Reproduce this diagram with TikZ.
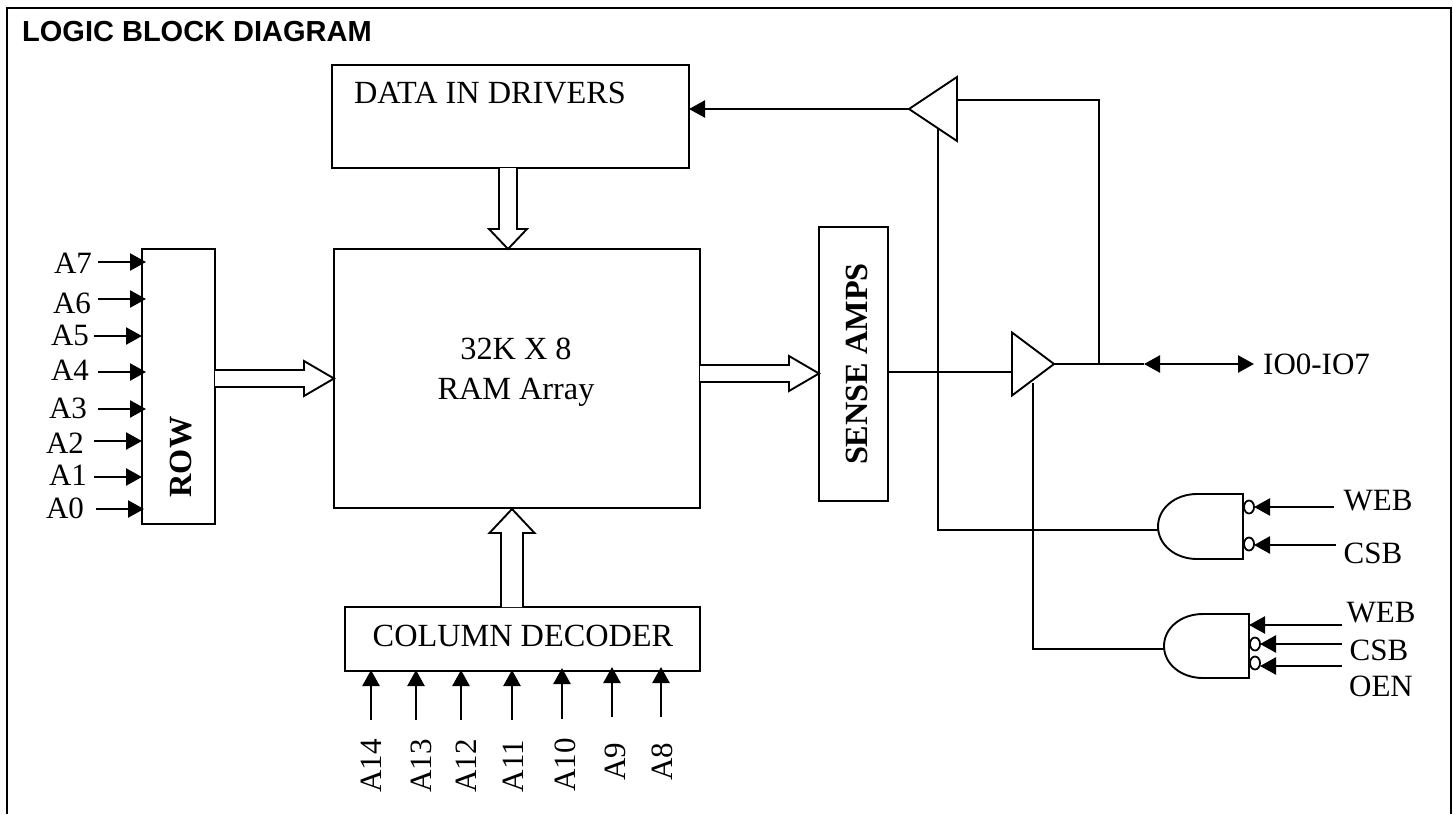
\documentclass[tikz,border=0pt]{standalone}
\usepackage{fontspec}
\setmainfont{Liberation Serif}
\newfontfamily\titlefont{Liberation Sans}
\usetikzlibrary{arrows.meta,calc,shapes.geometric}
\tikzset{
  box/.style={draw,line width=1.9pt,rectangle,inner sep=0pt,outer sep=0pt,anchor=north west},
  lbl/.style={inner sep=0pt,font=\fontsize{31}{35}\selectfont},
  biglbl/.style={inner sep=0pt,font=\fontsize{32.3}{36}\selectfont},
  blbl/.style={inner sep=0pt,rotate=90,font=\fontsize{32.3}{36}\selectfont\bfseries},
  wire/.style={line width=1.9pt},
  sig/.style={line width=2.4pt,-{Triangle[length=16pt,width=17pt]}},
  dsig/.style={line width=2.4pt,{Triangle[length=16pt,width=17pt]}-{Triangle[length=16pt,width=17pt]}},
  bus/.style={line width=1.9pt,fill=white,miter limit=4},
  buffer/.style={draw,line width=1.9pt,isosceles triangle,isosceles triangle stretches,inner sep=0pt,outer sep=0pt,anchor=apex},
  gatebox/.style={inner sep=0pt,outer sep=0pt,rectangle,anchor=north west},
  gateline/.style={draw,line width=1.9pt,fill=white},
  bubble/.style={draw,line width=1.8pt,ellipse,fill=white,inner sep=0pt,outer sep=0pt,minimum width=10pt,minimum height=13pt},
}
\newcommand{\hollow}[5]{%
  \coordinate (hneck) at ($(#2)!#5pt!(#1)$);
  \draw[bus] ($(#1)!#3pt!90:(#2)$) -- ($(hneck)!#3pt!90:(#2)$) -- ($(hneck)!#4pt!90:(#2)$) -- (#2)
    -- ($(hneck)!#4pt!-90:(#2)$) -- ($(hneck)!#3pt!-90:(#2)$) -- ($(#1)!#3pt!-90:(#2)$);
}
\newcommand{\gateshape}[2]{%
  \draw[gateline] (#1.north east) -- ++(-#2,0pt)
    .. controls +(-22pt,0pt) and ($(#1.west)+(0pt,18pt)$) .. (#1.west)
    .. controls ($(#1.west)+(0pt,-18pt)$) and ($(#1.south east)+(-#2,0pt)+(-22pt,0pt)$) .. ($(#1.south east)+(-#2,0pt)$)
    -- (#1.south east) -- cycle;
}
\begin{document}
\begin{tikzpicture}[x=1pt,y=-1pt]
\useasboundingbox (0,0) rectangle (1453,814);
% frame
\coordinate (fbl) at (6.5,814);
\coordinate (ftl) at (6.5,8);
\coordinate (ftr) at (1451,8);
\coordinate (fbr) at (1451,814);
\draw[line width=2pt] (fbl) -- (ftl) -- (ftr) -- (fbr);
\node[anchor=west,inner sep=0pt,font=\fontsize{29}{33}\selectfont\titlefont\bfseries] (title) at (22,32) {LOGIC BLOCK DIAGRAM};

% blocks
\node[box,minimum width=357pt,minimum height=103pt] (data) at (332,65) {};
\node[biglbl] (datat) at (490,93) {DATA IN DRIVERS};
\node[box,minimum width=366pt,minimum height=259pt] (ram) at (334,249) {};
\node[biglbl] (ramt1) at (516,349) {32K X 8};
\node[biglbl] (ramt2) at (516,392) {RAM Array};
\node[box,minimum width=73pt,minimum height=275pt] (row) at (142,249) {};
\node[blbl] (rowt) at (181,457) {ROW};
\node[box,minimum width=69pt,minimum height=274pt] (sense) at (819,227) {};
\node[blbl] (senset) at (857,364) {SENSE AMPS};
\node[box,minimum width=355pt,minimum height=64pt] (col) at (345,607) {};
\node[biglbl] (colt) at (523,636) {COLUMN DECODER};

% bus arrows
\coordinate (b1s) at (508,168); \coordinate (b1t) at (508,249);
\hollow{b1s}{b1t}{9}{19}{20}
\coordinate (b2s) at (215,378.5); \coordinate (b2t) at (334,378.5);
\hollow{b2s}{b2t}{8.5}{17.5}{30}
\coordinate (b3s) at (700,373.5); \coordinate (b3t) at (819,373.5);
\hollow{b3s}{b3t}{8.5}{17.5}{30}
\coordinate (b4s) at (512,607); \coordinate (b4t) at (512,509);
\hollow{b4s}{b4t}{11}{22.5}{24}

% row address inputs
\foreach \nm/\lx/\ly/\ax/\ay in {A7/73/263/98/262, A6/72/303/98/299, A5/70/335/94/336, A4/70/370/98/372, A3/68/408/98/409, A2/65/443/94/441, A1/68/475/94/477, A0/65/508/96/509}{
  \node[lbl] (l\nm) at (\lx,\ly) {\nm};
  \coordinate (s\nm) at (\ax,\ay);
  \coordinate (e\nm) at (\ax+48,\ay);
  \draw[sig] (s\nm) -- (e\nm);
}

% column address inputs
\foreach \nm/\lx/\ly/\ax/\at/\as in {A14/371/766/371/670/720, A13/421/766/416/670/720, A12/466/766/461/670/720, A11/513/766/512/670/720, A10/565/765/562/668/719, A9/615/762/612/667/717, A8/662/762/661/667/717}{
  \node[lbl,rotate=90] (l\nm) at (\lx,\ly) {\nm};
  \coordinate (s\nm) at (\ax,\as);
  \coordinate (e\nm) at (\ax,\at);
  \draw[sig] (s\nm) -- (e\nm);
}

% buffers
\node[buffer,shape border rotate=180,minimum width=64pt,minimum height=48pt] (buftop) at (909,109) {};
\node[buffer,minimum width=63pt,minimum height=42pt] (bufmid) at (1054,364) {};

% gates
\node[gatebox,minimum width=85pt,minimum height=65pt] (g1) at (1158,494) {};
\gateshape{g1}{46pt}
\node[gatebox,minimum width=85pt,minimum height=64pt] (g2) at (1164,614) {};
\gateshape{g2}{46pt}
\node[bubble] (b11) at (1249,507) {};
\node[bubble] (b12) at (1249,544) {};
\node[bubble] (b22) at (1255,644) {};
\node[bubble] (b23) at (1255,663) {};

% wires
\coordinate (ttap) at (1099,364);
\coordinate (tcor) at (1099,100);
\coordinate (tin) at (957,100);
\coordinate (ioa) at (1144,364);
\coordinate (iob) at (1254,364);
\draw[sig] (buftop.apex) -- (689,109);
\draw[wire] (tin) -- (tcor) -- (ttap);
\draw[wire] (bufmid.apex) -- (ioa);
\draw[dsig] (ioa) -- (iob);
\node[lbl,anchor=west] (io) at (1263,364) {IO0-IO7};
\coordinate (sout) at (888,372);
\coordinate (bin) at (1012,372);
\draw[wire] (sout) -- (bin);
\coordinate (en1t) at (938,128);
\coordinate (en1c) at (938,530);
\coordinate (en1g) at (1158,530);
\draw[wire] (en1t) -- (en1c) -- (en1g);
\coordinate (en2t) at (1033,383);
\coordinate (en2c) at (1033,649);
\coordinate (en2g) at (1164,649);
\draw[wire] (en2t) -- (en2c) -- (en2g);

% gate inputs
\coordinate (w1) at (1334,507);
\coordinate (c1) at (1336,545);
\coordinate (w2) at (1342,625);
\coordinate (w2e) at (1249,625);
\coordinate (c2) at (1342,644);
\coordinate (o2) at (1342,666);
\draw[sig] (w1) -- (w1 -| b11.east);
\draw[sig] (c1) -- (c1 -| b12.east);
\draw[sig] (w2) -- (w2e);
\draw[sig] (c2) -- (c2 -| b22.east);
\draw[sig] (o2) -- (o2 -| b23.east);
\node[lbl] (lw1) at (1378,501) {WEB};
\node[lbl] (lc1) at (1373,553) {CSB};
\node[lbl] (lw2) at (1381,613) {WEB};
\node[lbl] (lc2) at (1379,650) {CSB};
\node[lbl] (lo2) at (1381,686) {OEN};
\end{tikzpicture}
\end{document}
